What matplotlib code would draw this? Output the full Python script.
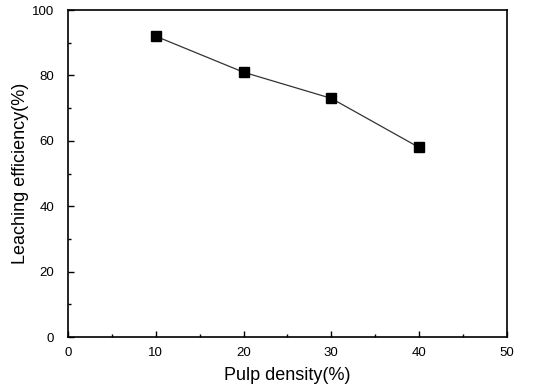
import numpy as np
import matplotlib
matplotlib.use('Agg')
import matplotlib.pyplot as plt
from matplotlib.ticker import MultipleLocator

plt.rcParams['font.family'] = ['Liberation Sans', 'DejaVu Sans']

# data
pulp_density = [10, 20, 30, 40]
leaching_eff = [92, 81, 73, 58]

fig = plt.figure(figsize=(5.41, 3.87), dpi=100)
ax = fig.add_axes([0.1257, 0.129, 0.811, 0.845])

ax.plot(pulp_density, leaching_eff, color='#333333', lw=0.9,
        marker='s', ms=7, mfc='black', mec='black')

ax.set_xlim(0, 50)
ax.set_ylim(0, 100)
ax.xaxis.set_major_locator(MultipleLocator(10))
ax.xaxis.set_minor_locator(MultipleLocator(5))
ax.yaxis.set_major_locator(MultipleLocator(20))
ax.yaxis.set_minor_locator(MultipleLocator(10))
ax.tick_params(which='both', direction='in', top=False, right=False, labelsize=9.5)
ax.tick_params(which='major', length=4, width=1)
ax.tick_params(which='minor', length=2.5, width=1)
ax.tick_params(axis='y', pad=10)
ax.tick_params(axis='x', pad=7)
for s in ax.spines.values():
    s.set_linewidth(1.2)

ax.set_xlabel('Pulp density(%)', fontsize=13, labelpad=6)
ax.set_ylabel('Leaching efficiency(%)', fontsize=13, labelpad=2)

fig.savefig('out.png', dpi=100)
